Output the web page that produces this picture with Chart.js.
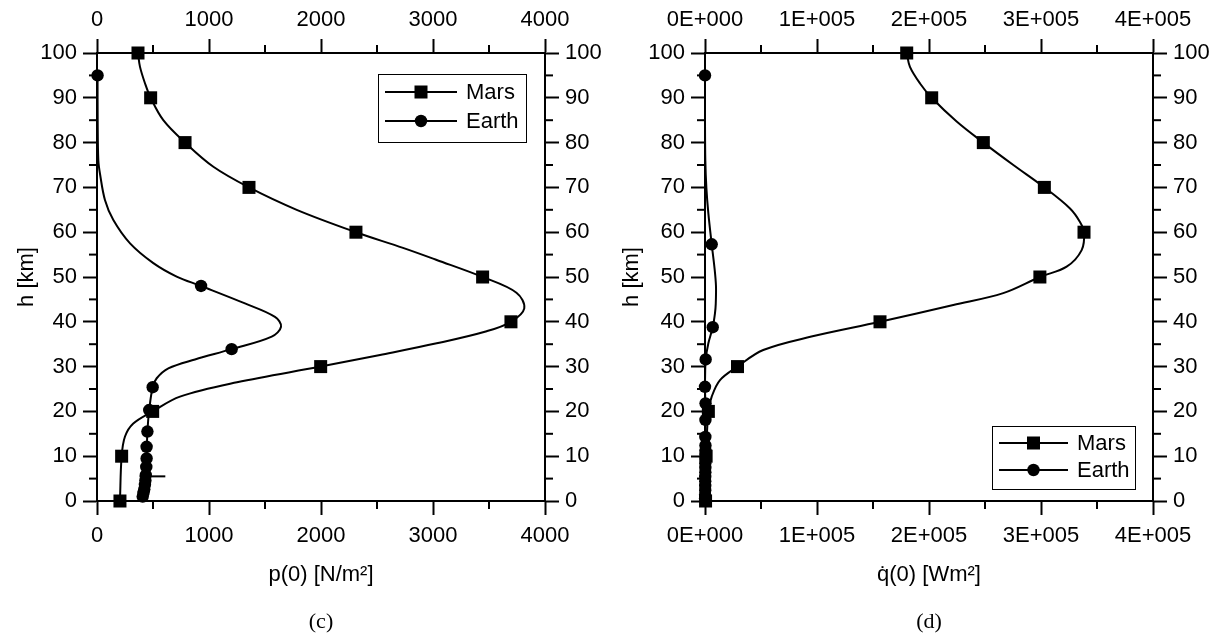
<!DOCTYPE html>
<html>
<head>
<meta charset="utf-8">
<script src="https://cdn.jsdelivr.net/npm/chart.js@4.4.1/dist/chart.umd.min.js"></script>
<style>
  html, body { margin: 0; padding: 0; background: #fff; }
  #wrap { position: relative; width: 1224px; height: 634px; }
  .panel { position: absolute; top: 0; width: 612px; height: 634px; }
</style>
</head>
<body>
<div id="wrap">
  <div class="panel" style="left:0"><canvas id="chartC" width="612" height="634"></canvas></div>
  <div class="panel" style="left:612px"><canvas id="chartD" width="612" height="634"></canvas></div>
</div>
<script>
// ---- panel (c): stagnation pressure p(0) [N/m2] vs altitude h [km] ----
const marsH = [100, 90, 80, 70, 60, 50, 40, 30, 20, 10, 0]
const marsP = [366, 479, 786, 1357, 2312, 3443, 3696, 1997, 497, 220, 205]
// points
const marsCurveH = [100, 96.9, 93.2, 90, 85, 80, 74.6, 70, 65, 60, 56.5, 53.8, 50, 46.5, 43, 40, 37.9, 35.2, 32.6, 30, 26.5, 23.3, 20, 17.3, 14.4, 10, 0]
const marsCurveP = [366, 384, 429, 479, 592, 786, 1039, 1357, 1783, 2312, 2732, 3033, 3443, 3745, 3815, 3696, 3479, 3033, 2527, 1997, 1250, 741, 497, 324, 250, 220, 205]

const earthH = [95, 48, 33.9, 25.4, 20.3, 15.5, 12.1, 9.5, 7.6, 5.8, 4.6, 3.6, 2.6, 1.8, 1.0]
const earthP = [5, 929, 1202, 497, 466, 450, 443, 443, 440, 436, 432, 428, 422, 415, 408]
const earthCurveH = [95, 85, 76, 73, 67.2, 62.7, 57.5, 53.1, 50.1, 48, 44.1, 41.1, 38.9, 36.7, 33.9, 31.6, 29.6, 27.4, 25.4, 20.3, 15.5, 10, 5, 1]
const earthCurveP = [5, 6, 12, 27, 71, 146, 295, 503, 711, 929, 1321, 1589, 1643, 1560, 1202, 875, 637, 533, 497, 466, 450, 443, 432, 408]
// short horizontal stroke near h = 5.5 km
const earthBarH = [5.5, 5.5]
const earthBarP = [380, 610]

// ---- panel (d): stagnation heat flux q(0) vs altitude h [km] ----
const marsQ = [180100, 202400, 248500, 303000, 338400, 299000, 156250, 29000, 3000, 1000, 500]
const marsCurveQH = [100, 96.9, 93.2, 90, 84.7, 80, 75, 70, 65.3, 62.3, 60, 56, 52.3, 50, 46.4, 43.75, 40, 36.7, 33.7, 30, 27, 23.3, 20, 10, 0]
const marsCurveQ = [180100, 183000, 192000, 202400, 224700, 248500, 275300, 303000, 325900, 334800, 338400, 336300, 322900, 299000, 266300, 221700, 156250, 95000, 52000, 29000, 13400, 6000, 3000, 1000, 500]

const earthQH = [95, 57.3, 38.8, 31.6, 25.5, 21.8, 18.1, 14.3, 12.4, 11.2, 10.3, 9.4, 8.4, 7.4, 6.4, 5.4, 4.4, 3.4, 2.4, 1.4, 0.6]
const earthQ = [0, 6000, 6900, 600, 0, 500, 400, 300, 400, 500, 500, 400, 300, 300, 300, 200, 200, 200, 200, 100, 100]
const earthCurveQH = [95, 85, 76, 70, 64.2, 57.3, 52, 48, 44, 41.9, 38.8, 35.2, 31.6, 28, 25.5, 21.8, 18, 14.3, 10, 5, 0.5]
const earthCurveQ = [0, 0, 300, 1200, 3000, 6000, 8500, 9800, 9600, 8900, 6900, 3000, 600, 100, 0, 300, 400, 300, 300, 300, 200]

const hTicksMax = 100
const pTicksMax = 4000
const qTicksMax = 400000

const SANS = "'Liberation Sans', Arial, sans-serif"
const SERIF = "'Liberation Serif', 'Times New Roman', serif"

function pts(xs, ys) {
  return xs.map((x, i) => ({ x: x, y: ys[i] }))
}

function curve(data) {
  return { data, showLine: true, pointRadius: 0, borderColor: '#000', borderWidth: 2, tension: 0.35, clip: false }
}

function markers(data, style) {
  return {
    data, showLine: false, pointStyle: style,
    pointRadius: style === 'rect' ? 9.2 : 6.2,
    backgroundColor: '#000', borderColor: '#000', borderWidth: 0, clip: false,
  }
}

// minor ticks, legend box and panel caption
function extras(cfg) {
  return {
    id: 'extras',
    afterDraw(chart) {
      const ctx = chart.ctx
      const a = chart.chartArea
      ctx.save()
      ctx.strokeStyle = '#000'
      ctx.lineWidth = 2
      // minor ticks halfway between major ones
      Object.values(chart.scales).forEach((s) => {
        const t = s.ticks
        for (let i = 0; i < t.length - 1; i++) {
          const px = s.getPixelForValue((t[i].value + t[i + 1].value) / 2)
          ctx.beginPath()
          if (s.position === 'bottom') { ctx.moveTo(px, a.bottom); ctx.lineTo(px, a.bottom + 8) }
          else if (s.position === 'top') { ctx.moveTo(px, a.top); ctx.lineTo(px, a.top - 8) }
          else if (s.position === 'left') { ctx.moveTo(a.left, px); ctx.lineTo(a.left - 8, px) }
          else { ctx.moveTo(a.right, px); ctx.lineTo(a.right + 8, px) }
          ctx.stroke()
        }
      })

      // legend
      const L = cfg.legend
      const bx = L.fromRight ? a.right - L.fromRight : a.left
      const by = L.fromTop != null ? a.top + L.fromTop : a.bottom - L.fromBottom - L.h
      ctx.lineWidth = 1
      ctx.strokeRect(bx + 0.5, by + 0.5, L.w, L.h)
      const rows = [['Mars', 'rect'], ['Earth', 'circle']]
      ctx.font = '22px ' + SANS
      ctx.fillStyle = '#000'
      ctx.textBaseline = 'middle'
      ctx.textAlign = 'left'
      rows.forEach((r, i) => {
        const ry = by + L.row0 + i * L.rowGap
        ctx.lineWidth = 2
        ctx.beginPath()
        ctx.moveTo(bx + 7, ry)
        ctx.lineTo(bx + 7 + L.line, ry)
        ctx.stroke()
        const mx = bx + 7 + L.line / 2
        if (r[1] === 'rect') {
          ctx.fillRect(mx - 6.5, ry - 6.5, 13, 13)
        } else {
          ctx.beginPath()
          ctx.arc(mx, ry, 6.2, 0, Math.PI * 2)
          ctx.fill()
        }
        ctx.fillText(r[0], bx + 7 + L.line + 9, ry + 1)
      })

      // caption below the panel
      ctx.font = '22px ' + SERIF
      ctx.textAlign = 'center'
      ctx.fillText(cfg.caption, (a.left + a.right) / 2, 622)
      ctx.restore()
    },
  }
}

function scales(xMax, xStep, xFmt, xTitle, leftW, rightW, yTitlePad) {
  const font = { family: SANS, size: 22 }
  const grid = { drawOnChartArea: false, tickLength: 14, tickWidth: 2, tickColor: '#000' }
  const border = { display: true, color: '#000', width: 2 }
  const xTicks = (pad) => ({ stepSize: xStep, callback: xFmt, padding: pad, color: '#000', font, maxRotation: 0, autoSkip: false })
  const yTicks = { stepSize: 10, padding: 6, color: '#000', font, autoSkip: false }
  return {
    x: {
      type: 'linear', position: 'bottom', min: 0, max: xMax, grid, border, ticks: xTicks(8),
      title: { display: true, text: xTitle, color: '#000', font, padding: { top: 0, bottom: 46 } },
      afterFit: (s) => { s.height = 133 },
    },
    x2: {
      type: 'linear', position: 'top', min: 0, max: xMax, grid, border, ticks: xTicks(6),
      afterFit: (s) => { s.height = 53 },
    },
    y: {
      type: 'linear', position: 'left', min: 0, max: hTicksMax, grid, border, ticks: yTicks,
      title: { display: true, text: 'h [km]', color: '#000', font, padding: { top: yTitlePad, bottom: yTitlePad } },
      afterFit: (s) => { s.width = leftW },
    },
    y2: {
      type: 'linear', position: 'right', min: 0, max: hTicksMax, grid, border, ticks: yTicks,
      afterFit: (s) => { s.width = rightW },
    },
  }
}

function makeChart(canvas, datasets, scaleCfg, extraCfg) {
  return new Chart(canvas, {
    type: 'scatter',
    data: { datasets },
    options: {
      responsive: false,
      animation: false,
      layout: { padding: 0 },
      plugins: { legend: { display: false }, tooltip: { enabled: false } },
      scales: scaleCfg,
    },
    plugins: [extras(extraCfg)],
  })
}

makeChart(
  document.getElementById('chartC'),
  [
    markers(pts(marsP, marsH), 'rect'),
    markers(pts(earthP, earthH), 'circle'),
    curve(pts(marsCurveP, marsCurveH)),
    curve(pts(earthCurveP, earthCurveH)),
    curve(pts(earthBarP, earthBarH)),
  ],
  scales(pTicksMax, 1000, (v) => String(v), 'p(0) [N/m²]', 97, 67, 14),
  { caption: '(c)', legend: { fromRight: 167, fromTop: 21, w: 148, h: 68, row0: 18, rowGap: 29, line: 72 } }
)

makeChart(
  document.getElementById('chartD'),
  [
    markers(pts(marsQ, marsH), 'rect'),
    markers(pts(earthQ, earthQH), 'circle'),
    curve(pts(marsCurveQ, marsCurveQH)),
    curve(pts(earthCurveQ, earthCurveQH)),
  ],
  scales(qTicksMax, 100000, (v) => (v === 0 ? '0E+000' : Math.round(v / 100000) + 'E+005'), 'q̇(0) [Wm²]', 93, 71, 7),
  { caption: '(d)', legend: { fromRight: 161, fromBottom: 12, w: 143, h: 63, row0: 17, rowGap: 27, line: 69 } }
)
</script>
</body>
</html>
